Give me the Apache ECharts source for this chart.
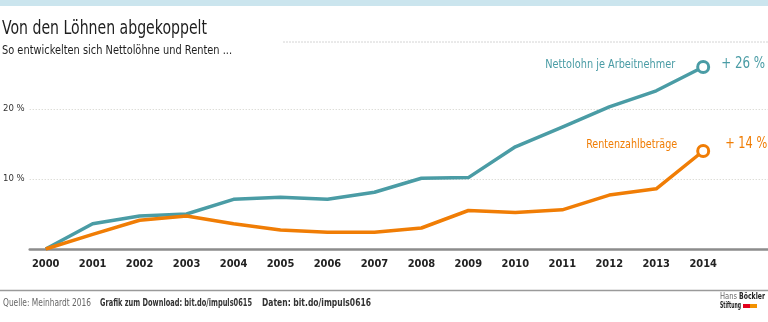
<!DOCTYPE html>
<html>
<head>
<meta charset="utf-8">
<script src="https://cdn.jsdelivr.net/npm/echarts@6/dist/echarts.min.js"></script>
<style>
  html, body { margin: 0; padding: 0; background: #fff; }
  #chart { width: 768px; height: 322px; }
</style>
</head>
<body>
<div id="chart"></div>
<script>
// Jahre und Entwicklung seit 2000 in Prozent
const years = [2000, 2001, 2002, 2003, 2004, 2005, 2006, 2007, 2008, 2009, 2010, 2011, 2012, 2013, 2014];
const nettolohn = [0, 3.6, 4.7, 5.0, 7.1, 7.4, 7.1, 8.1, 10.1, 10.2, 14.6, 17.4, 20.3, 22.6, 26];
const renten = [0, 2.1, 4.1, 4.7, 3.6, 2.7, 2.4, 2.4, 3.0, 5.5, 5.2, 5.6, 7.7, 8.6, 14];
const yTicks = [10, 20];
const seriesNames = ['Nettolohn je Arbeitnehmer', 'Rentenzahlbeträge'];
const endTexts = ['+ 26 %', '+ 14 %'];

const FONT = "'Liberation Sans Narrow', 'DejaVu Sans Condensed', 'Roboto', sans-serif";
const TEAL = '#4a9ca5';
const ORANGE = '#f07d05';

// Text helper: squeeze a string horizontally to a given width (condensed look)
const mctx = document.createElement('canvas').getContext('2d');
function measure(font, text) { mctx.font = font; return mctx.measureText(text).width; }
function fitText(text, font, x, yMid, width, fill, align) {
  return {
    type: 'text', x: x, y: yMid, z: 100,
    scaleX: width / measure(font, text),
    style: { text: text, font: font, fill: fill, verticalAlign: 'middle', align: align || 'left' }
  };
}

function lineSeries(name, vals, color) {
  const data = years.map((y, i) => [y, vals[i]]);
  const last = data.length - 1;
  data[last] = {
    value: data[last],
    symbol: 'circle',
    symbolSize: 11,
    itemStyle: { color: '#fff', borderColor: color, borderWidth: 3 }
  };
  return {
    name: name, type: 'line', z: 5,
    symbol: 'none', showSymbol: true,
    lineStyle: { color: color, width: 3.5, join: 'round' },
    itemStyle: { color: color },
    data: data
  };
}

const chart = echarts.init(document.getElementById('chart'), null, { renderer: 'canvas' });

const baseGraphic = [
  { type: 'rect', shape: { x: 0, y: 0, width: 768, height: 6 }, style: { fill: '#cbe5ee' } },
  fitText('Von den Löhnen abgekoppelt', '19px ' + FONT, 2, 29, 205, '#1e1e1e'),
  fitText('So entwickelten sich Nettolöhne und Renten ...', '11.5px ' + FONT, 2, 51, 230, '#1e1e1e'),
  { type: 'line', shape: { x1: 283, y1: 42, x2: 768, y2: 42 },
    style: { stroke: '#d4d4d4', lineWidth: 1, lineDash: [2, 1] } },
  { type: 'line', shape: { x1: 0, y1: 290.5, x2: 768, y2: 290.5 },
    style: { stroke: '#9a9a9a', lineWidth: 1.5 } },
  fitText('Quelle: Meinhardt 2016', '10px ' + FONT, 3, 303, 88, '#666'),
  fitText('Grafik zum Download: bit.do/impuls0615', 'bold 10px ' + FONT, 100, 303, 152, '#333'),
  fitText('Daten: bit.do/impuls0616', 'bold 10px ' + FONT, 262, 303, 109, '#333'),
  fitText('Hans', '8px ' + FONT, 720, 297, 17, '#666'),
  fitText('Böckler', 'bold 8px ' + FONT, 739, 297, 26, '#222'),
  fitText('Stiftung', 'bold 8px ' + FONT, 720, 306, 21, '#222'),
  { type: 'rect', shape: { x: 743, y: 304, width: 7, height: 4 }, style: { fill: '#e3001b' } },
  { type: 'rect', shape: { x: 750, y: 304, width: 7, height: 4 }, style: { fill: '#f39200' } }
];

chart.setOption({
  animation: false,
  backgroundColor: '#fff',
  grid: { left: 27, right: 0, top: 39, bottom: 73 },
  xAxis: {
    type: 'value', min: 1999.66, max: 2015.38,
    axisLine: { show: true, lineStyle: { color: '#8c8c8c', width: 2.5 } },
    axisTick: { show: false },
    splitLine: { show: false },
    axisLabel: {
      customValues: years, margin: 10,
      formatter: v => String(v),
      color: '#222', fontFamily: FONT, fontWeight: 'bold', fontSize: 11
    }
  },
  yAxis: {
    type: 'value', min: 0, max: 30, interval: 10,
    axisLine: { show: false },
    axisTick: { show: false },
    splitLine: {
      show: true,
      lineStyle: { color: ['rgba(0,0,0,0)', '#cfcfc8', '#cfcfc8', 'rgba(0,0,0,0)'], type: [1, 2], width: 1 }
    },
    axisLabel: {
      margin: 5,
      formatter: v => (yTicks.indexOf(v) >= 0 ? v + ' %' : ''),
      color: '#333', fontFamily: FONT, fontSize: 9.5
    }
  },
  series: [
    lineSeries(seriesNames[0], nettolohn, TEAL),
    lineSeries(seriesNames[1], renten, ORANGE)
  ],
  graphic: baseGraphic
});

// Series captions next to the end points, placed from the axis scales
const ends = [
  { name: seriesNames[0], text: endTexts[0], value: nettolohn[nettolohn.length - 1], color: TEAL,
    nameGap: 28, nameDy: -2, nameW: 130, textGap: 18, textDy: -2.5, textW: 44 },
  { name: seriesNames[1], text: endTexts[1], value: renten[renten.length - 1], color: ORANGE,
    nameGap: 26, nameDy: -6, nameW: 91, textGap: 22, textDy: -7, textW: 42 }
];
const captions = [];
ends.forEach(e => {
  const p = chart.convertToPixel({ gridIndex: 0 }, [years[years.length - 1], e.value]);
  captions.push(fitText(e.name, '13px ' + FONT, p[0] - e.nameGap, p[1] + e.nameDy, e.nameW, e.color, 'right'));
  captions.push(fitText(e.text, '15px ' + FONT, p[0] + e.textGap, p[1] + e.textDy, e.textW, e.color, 'left'));
});
chart.setOption({ graphic: baseGraphic.concat(captions) });
</script>
</body>
</html>
